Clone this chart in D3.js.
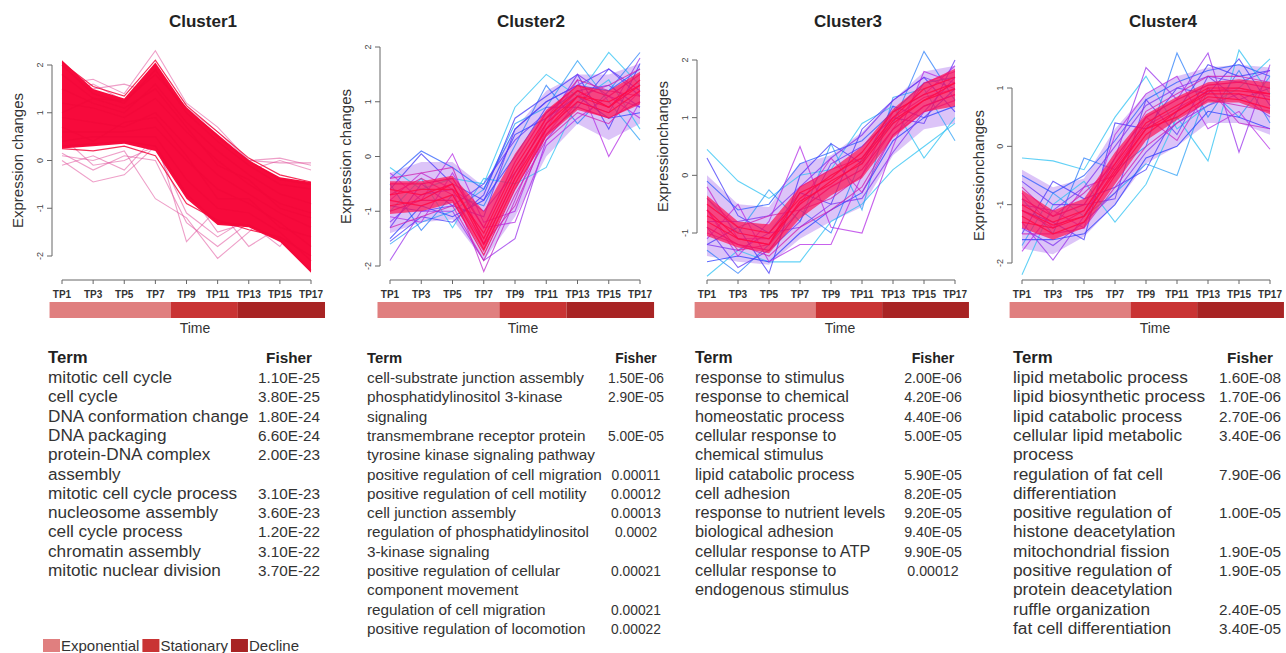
<!DOCTYPE html>
<html>
<head>
<meta charset="utf-8">
<script src="https://cdn.jsdelivr.net/npm/d3@7"></script>
<style>
body { margin: 0; background: #fff; }
svg { display: block; }
text { font-family: "Liberation Sans", Arial, sans-serif; fill: #222; }
</style>
</head>
<body>
<script>
//time points on the x axis
var timePoints = [1, 3, 5, 7, 9, 11, 13, 15, 17];

//growth phases, in TP units
var phaseNames = ["Exponential", "Stationary", "Decline"];
var phaseStart = [0.2, 8, 12.3];
var phaseEnd = [8, 12.3, 17.9];

//cluster1 profiles (one row per gene, one value per time point) and memberships
var cluster1Lines = [
  [2.0, 1.4, 1.2, 1.9, 1.0, 0.4, -0.1, -0.5, -0.6],
  [1.5, 1.2, 1.0, 1.6, 0.8, 0.2, -0.3, -0.7, -0.9],
  [1.2, 1.1, 0.9, 1.3, 0.6, 0.0, -0.5, -0.9, -1.1],
  [0.9, 0.8, 0.7, 1.0, 0.3, -0.3, -0.7, -1.1, -1.4],
  [0.6, 0.6, 0.6, 0.7, 0.0, -0.6, -0.9, -1.3, -1.8],
  [0.4, 0.5, 0.5, 0.5, -0.4, -1.0, -1.1, -1.5, -2.1],
  [1.8, 1.3, 1.25, 1.8, 1.1, 0.5, 0.0, -0.4, -0.5],
  [0.3, 0.35, 0.4, 0.3, -0.7, -1.3, -1.35, -1.65, -2.3],
  [0.25, 0.2, 0.3, 0.1, -0.9, -1.25, -1.45, -1.6, -2.0],
  [2.05, 1.55, 1.35, 2.1, 1.15, 0.6, 0.05, -0.3, -0.45],
  [1.0, 1.3, 1.1, 1.5, 0.7, -0.1, -0.4, -1.0, -1.2],
  [0.7, 0.4, 0.8, 0.9, 0.1, -0.8, -0.8, -1.4, -1.6],
  [0.0, -0.45, -0.3, 0.3, -1.1, -1.6, -1.2, -1.6, -1.5],
  [-0.1, 0.1, -0.2, 0.5, -1.7, -1.0, -1.8, -1.4, -1.2],
  [0.1, 0.0, 0.2, -0.8, -1.2, -2.05, -1.5, -0.9, -1.0],
  [1.6, 1.7, 1.4, 2.3, 1.2, 0.7, 0.0, 0.05, -0.1],
  [1.3, 1.5, 1.6, 1.4, 0.9, 0.5, -0.2, 0.0, -0.2],
  [0.5, -0.1, 0.0, 0.3, -0.6, -1.5, -1.3, -1.8, -0.9],
  [0.15, -0.2, 0.1, 0.0, -1.3, -1.8, -1.3, -1.7, -1.3],
  [1.4, 1.6, 1.25, 1.9, 1.1, 0.6, 0.0, -0.05, -0.05]
];
var cluster1Members = [0.9, 0.9, 0.9, 0.9, 0.9, 0.9, 0.9, 0.9, 0.9, 0.9, 0.9, 0.9,
  0.55, 0.55, 0.55, 0.6, 0.6, 0.55, 0.55, 0.5];
var cluster1CoreHigh = [2.1, 1.5, 1.3, 2.05, 1.1, 0.55, 0.0, -0.35, -0.45];
var cluster1CoreLow = [0.25, 0.3, 0.35, 0.2, -0.8, -1.35, -1.4, -1.7, -2.35];
var cluster1BandHigh = [2.1, 1.5, 1.3, 2.05, 1.1, 0.55, 0.0, -0.35, -0.45];
var cluster1BandLow = [0.25, 0.3, 0.35, 0.2, -0.8, -1.35, -1.4, -1.7, -2.35];

//cluster2
var cluster2Lines = [
  [-0.2, -0.6, -0.4, -0.5, 0.9, 1.5, 1.1, 1.9, 1.3],
  [-1.6, -1.2, -1.0, -0.6, 0.6, 0.9, 1.75, 1.0, 0.3],
  [-1.0, -0.4, -1.3, -0.4, -0.5, -0.2, 1.0, 1.4, 0.5],
  [-0.5, -1.35, -0.7, -0.9, 0.2, 1.3, 0.6, 1.2, 1.9],
  [-1.55, -1.1, -1.2, -0.7, 0.7, 1.1, 1.5, 0.5, 1.7],
  [-1.3, -0.5, -0.9, -0.5, 0.3, 0.8, 1.2, 1.3, 0.9],
  [-0.6, 0.05, -0.5, -0.8, 0.0, 0.9, 0.9, 1.6, 1.2],
  [-1.9, -1.0, -1.0, -1.9, -1.5, 0.3, 1.0, 0.8, 1.8],
  [-0.3, -0.8, 0.05, -1.2, -1.0, 0.5, 1.4, 0.0, 1.0],
  [-0.8, -0.3, -0.6, -2.1, -0.8, 0.6, 1.2, 0.9, 1.4],
  [-1.1, -1.2, -0.3, -1.3, -1.2, 0.2, 0.7, 1.1, 0.7],
  [-0.4, 0.1, -0.2, -0.6, 0.5, 1.0, 1.3, 1.2, 1.6],
  [-1.5, -0.9, -1.1, -0.8, 0.4, 0.7, 1.1, 0.7, 0.8],
  [-1.2, -0.7, -0.6, -1.0, -0.3, 0.6, 1.5, 1.1, 0.9],
  [-0.9, -1.0, -0.9, -1.1, 0.5, 1.0, 1.3, 1.6, 1.1],
  [-0.4, -0.3, -0.2, -1.6, -0.9, 0.4, 1.1, 1.3, 1.6],
  [-1.3, -1.1, -0.9, -1.9, -0.7, 0.3, 0.8, 0.6, 1.2],
  [-0.7, -0.4, -0.7, -1.6, -0.4, 0.7, 1.4, 1.2, 1.1],
  [-0.6, -0.7, -0.5, -1.5, -0.3, 0.6, 1.1, 1.0, 1.3],
  [-0.8, -0.9, -0.7, -1.7, -0.5, 0.5, 1.0, 0.8, 1.2],
  [-0.5, -0.5, -0.4, -1.3, -0.1, 0.8, 1.3, 1.1, 1.5],
  [-1.0, -0.8, -0.8, -1.8, -0.6, 0.4, 0.9, 0.7, 1.0],
  [-0.7, -0.6, -0.6, -1.4, -0.2, 0.7, 1.2, 0.9, 1.4],
  [-0.9, -0.8, -0.5, -1.6, -0.4, 0.5, 1.1, 0.9, 1.3]
];
var cluster2Members = [0.15, 0.2, 0.15, 0.25, 0.4, 0.45, 0.4, 0.55, 0.6, 0.65, 0.6,
  0.3, 0.35, 0.5, 0.45, 0.7, 0.7, 0.75, 0.9, 0.9, 0.85, 0.85, 0.95, 0.92];
var cluster2CoreHigh = [-0.45, -0.45, -0.35, -1.0, 0.05, 0.85, 1.3, 1.2, 1.55];
var cluster2CoreLow = [-1.05, -1.0, -0.85, -1.75, -0.6, 0.35, 0.85, 0.7, 0.95];
var cluster2BandHigh = [-0.3, -0.1, -0.1, -0.55, 0.5, 1.2, 1.5, 1.5, 1.7];
var cluster2BandLow = [-1.4, -1.2, -1.15, -1.9, -1.1, 0.0, 0.6, 0.3, 0.6];

//cluster3
var cluster3Lines = [
  [0.45, -0.1, -0.4, 0.0, 0.1, 0.9, 1.2, 0.3, 1.0],
  [-1.75, -1.3, -1.5, -1.5, -0.8, -0.5, 0.1, 0.5, 0.9],
  [-0.4, -1.0, -0.25, -0.8, 0.55, -0.6, 1.35, 1.5, 0.6],
  [-1.3, -1.7, -1.2, -0.6, -1.0, 0.3, 0.9, 2.15, 1.3],
  [-1.2, -0.9, -1.7, 0.0, 0.55, 0.2, 1.2, 1.0, 1.5],
  [0.3, -0.7, -1.0, -0.3, -0.5, 0.8, 1.3, 1.7, 1.1],
  [-0.9, -1.6, -1.3, -0.8, 0.2, 0.5, 1.0, 0.9, 2.0],
  [-0.6, -1.4, -0.8, 0.5, -0.9, -1.0, 0.5, 1.8, 1.6],
  [-1.1, -0.5, -1.5, -1.2, -1.2, 0.0, 1.1, 1.4, 1.9],
  [-0.2, -1.1, -1.1, -0.5, 0.3, -0.3, 0.7, 1.2, 1.4],
  [-0.1, -0.6, -0.5, 0.2, 0.4, 0.6, 1.1, 1.6, 1.7],
  [-1.5, -1.4, -1.5, -1.0, -0.6, -0.3, 0.6, 1.0, 1.2],
  [-0.8, -0.8, -0.7, -0.2, 0.3, 0.7, 1.3, 1.7, 1.5],
  [-1.2, -1.3, -1.0, -0.9, -0.5, -0.4, 0.4, 1.1, 1.7],
  [-0.4, -0.9, -0.7, -0.6, -0.4, 0.0, 0.8, 1.6, 1.8],
  [-1.0, -1.2, -1.4, -0.9, -0.6, -0.2, 0.7, 1.1, 1.3],
  [-0.6, -1.3, -1.2, -0.2, 0.1, 0.3, 1.0, 1.35, 1.5],
  [-0.7, -1.0, -1.1, -0.5, -0.1, 0.2, 0.9, 1.3, 1.5],
  [-0.5, -0.9, -1.0, -0.4, 0.0, 0.3, 1.0, 1.5, 1.7],
  [-0.9, -1.2, -1.3, -0.6, -0.2, 0.1, 0.8, 1.2, 1.4],
  [-0.6, -1.1, -1.2, -0.3, -0.05, 0.4, 1.1, 1.4, 1.6],
  [-0.8, -1.1, -1.2, -0.45, -0.15, 0.25, 0.95, 1.3, 1.6]
];
var cluster3Members = [0.15, 0.15, 0.2, 0.25, 0.4, 0.4, 0.45, 0.6, 0.6, 0.65,
  0.3, 0.35, 0.5, 0.5, 0.7, 0.7, 0.75, 0.9, 0.9, 0.85, 0.95, 0.92];
var cluster3CoreHigh = [-0.35, -0.8, -0.85, -0.2, 0.1, 0.5, 1.15, 1.6, 1.85];
var cluster3CoreLow = [-1.05, -1.25, -1.35, -0.75, -0.35, -0.05, 0.65, 1.1, 1.2];
var cluster3BandHigh = [0.0, -0.5, -0.55, 0.2, 0.35, 0.75, 1.3, 1.8, 1.9];
var cluster3BandLow = [-1.4, -1.5, -1.55, -1.1, -0.8, -0.55, 0.35, 0.8, 0.9];

//cluster4
var cluster4Lines = [
  [-2.2, -1.0, -0.6, -1.3, -0.65, 0.5, -0.25, 1.65, 0.9],
  [-0.2, -0.25, -0.4, 0.5, 1.2, 0.3, 0.7, 1.0, 1.5],
  [-1.7, -0.8, -1.2, -0.8, -0.3, -0.5, 1.0, 0.5, 1.2],
  [-0.9, -1.5, -0.2, -0.4, 0.0, 1.6, 0.5, 1.3, 0.4],
  [-1.5, -0.6, -0.9, -0.7, -0.4, 0.6, 1.4, 1.2, 1.3],
  [-1.1, -1.3, -1.6, 0.4, 0.3, 1.0, 0.9, 1.5, 0.7],
  [-0.6, -1.0, -1.0, -0.9, 0.8, 0.2, 1.2, 0.8, 1.0],
  [-1.3, -1.95, -1.2, -0.2, 1.35, 0.8, 1.6, -0.1, 1.4],
  [-1.8, -1.1, -1.4, 0.2, 0.9, 1.2, 0.3, 0.6, -0.05],
  [-0.8, -1.4, -0.7, -0.5, 0.5, 0.1, 1.0, 0.4, 0.3],
  [-0.5, -0.8, -0.5, 0.1, 0.8, 1.1, 1.3, 1.4, 1.2],
  [-1.6, -1.6, -1.5, -1.0, -0.2, 0.0, 0.6, 0.5, 0.3],
  [-1.0, -1.1, -0.7, 0.0, 0.7, 1.0, 1.2, 1.1, 1.3],
  [-1.4, -1.7, -1.3, -0.8, -0.1, 0.4, 0.7, 0.9, 0.5],
  [-0.7, -1.2, -0.8, -0.3, 0.6, 0.9, 1.2, 1.2, 1.1],
  [-1.5, -1.5, -1.4, -0.7, 0.0, 0.4, 0.8, 0.7, 0.6],
  [-1.1, -1.4, -1.1, -0.35, 0.35, 0.65, 0.95, 1.0, 0.85],
  [-1.0, -1.3, -1.1, -0.3, 0.4, 0.7, 1.0, 1.0, 0.9],
  [-1.2, -1.5, -1.3, -0.5, 0.2, 0.6, 0.9, 0.9, 0.8],
  [-0.9, -1.2, -1.0, -0.2, 0.5, 0.8, 1.05, 1.1, 1.0],
  [-1.3, -1.4, -1.2, -0.4, 0.3, 0.5, 0.85, 0.8, 0.65],
  [-1.1, -1.35, -1.2, -0.45, 0.3, 0.6, 0.95, 0.95, 0.9]
];
var cluster4Members = [0.15, 0.15, 0.2, 0.25, 0.4, 0.4, 0.45, 0.55, 0.6, 0.65,
  0.3, 0.35, 0.5, 0.5, 0.7, 0.7, 0.75, 0.9, 0.9, 0.85, 0.95, 0.92];
var cluster4CoreHigh = [-0.75, -1.1, -0.9, -0.1, 0.55, 0.85, 1.1, 1.15, 1.1];
var cluster4CoreLow = [-1.4, -1.6, -1.4, -0.65, 0.1, 0.45, 0.75, 0.75, 0.55];
var cluster4BandHigh = [-0.4, -0.7, -0.55, 0.3, 0.9, 1.2, 1.35, 1.4, 1.35];
var cluster4BandLow = [-1.75, -1.85, -1.55, -1.0, -0.3, 0.0, 0.4, 0.4, 0.2];

//GO enrichment tables
var cluster1Terms = ["mitotic cell cycle", "cell cycle", "DNA conformation change", "DNA packaging",
  "protein-DNA complex\nassembly", "mitotic cell cycle process", "nucleosome assembly",
  "cell cycle process", "chromatin assembly", "mitotic nuclear division"];
var cluster1Fisher = ["1.10E-25", "3.80E-25", "1.80E-24", "6.60E-24", "2.00E-23", "3.10E-23",
  "3.60E-23", "1.20E-22", "3.10E-22", "3.70E-22"];
var cluster2Terms = ["cell-substrate junction assembly", "phosphatidylinositol 3-kinase\nsignaling",
  "transmembrane receptor protein\ntyrosine kinase signaling pathway",
  "positive regulation of cell migration", "positive regulation of cell motility",
  "cell junction assembly", "regulation of phosphatidylinositol\n3-kinase signaling",
  "positive regulation of cellular\ncomponent movement", "regulation of cell migration",
  "positive regulation of locomotion"];
var cluster2Fisher = ["1.50E-06", "2.90E-05", "5.00E-05", "0.00011", "0.00012", "0.00013",
  "0.0002", "0.00021", "0.00021", "0.00022"];
var cluster3Terms = ["response to stimulus", "response to chemical", "homeostatic process",
  "cellular response to\nchemical stimulus", "lipid catabolic process", "cell adhesion",
  "response to nutrient levels", "biological adhesion", "cellular response to ATP",
  "cellular response to\nendogenous stimulus"];
var cluster3Fisher = ["2.00E-06", "4.20E-06", "4.40E-06", "5.00E-05", "5.90E-05", "8.20E-05",
  "9.20E-05", "9.40E-05", "9.90E-05", "0.00012"];
var cluster4Terms = ["lipid metabolic process", "lipid biosynthetic process", "lipid catabolic process",
  "cellular lipid metabolic\nprocess", "regulation of fat cell\ndifferentiation",
  "positive regulation of\nhistone deacetylation", "mitochondrial fission",
  "positive regulation of\nprotein deacetylation", "ruffle organization", "fat cell differentiation"];
var cluster4Fisher = ["1.60E-08", "1.70E-06", "2.70E-06", "3.40E-06", "7.90E-06", "1.00E-05",
  "1.90E-05", "1.90E-05", "2.40E-05", "3.40E-05"];

//layout of the four panels
var panels = [
  {title: "Cluster1", lines: cluster1Lines, members: cluster1Members,
   coreHigh: cluster1CoreHigh, coreLow: cluster1CoreLow, bandHigh: cluster1BandHigh, bandLow: cluster1BandLow,
   terms: cluster1Terms, fisher: cluster1Fisher,
   x0: 62, x1: 311, yDomain: [-2, 2], yRange: [256, 65], yTicks: [-2, -1, 0, 1, 2],
   yLabel: "Expression changes", yLabelX: 18, tableX: 48, fisherX: 289,
   termSize: 17.2, valueSize: 15.3, allRed: true},
  {title: "Cluster2", lines: cluster2Lines, members: cluster2Members,
   coreHigh: cluster2CoreHigh, coreLow: cluster2CoreLow, bandHigh: cluster2BandHigh, bandLow: cluster2BandLow,
   terms: cluster2Terms, fisher: cluster2Fisher,
   x0: 390, x1: 640, yDomain: [-2, 2], yRange: [266, 47], yTicks: [-2, -1, 0, 1, 2],
   yLabel: "Expression changes", yLabelX: 346, tableX: 367, fisherX: 636,
   termSize: 15.3, valueSize: 13.8},
  {title: "Cluster3", lines: cluster3Lines, members: cluster3Members,
   coreHigh: cluster3CoreHigh, coreLow: cluster3CoreLow, bandHigh: cluster3BandHigh, bandLow: cluster3BandLow,
   terms: cluster3Terms, fisher: cluster3Fisher,
   x0: 707, x1: 955, yDomain: [-1, 2], yRange: [233, 60], yTicks: [-1, 0, 1, 2],
   yLabel: "Expressionchanges", yLabelX: 663, tableX: 695, fisherX: 933,
   termSize: 16.3, valueSize: 14.2},
  {title: "Cluster4", lines: cluster4Lines, members: cluster4Members,
   coreHigh: cluster4CoreHigh, coreLow: cluster4CoreLow, bandHigh: cluster4BandHigh, bandLow: cluster4BandLow,
   terms: cluster4Terms, fisher: cluster4Fisher,
   x0: 1022, x1: 1270, yDomain: [-2, 1], yRange: [263, 88], yTicks: [-2, -1, 0, 1],
   yLabel: "Expressionchanges", yLabelX: 979, tableX: 1013, fisherX: 1250,
   termSize: 17.3, valueSize: 15.3}
];

var phaseColors = ["#e07f7f", "#c93434", "#a82424"];

//membership -> colour, cyan (low) to red (high)
var memberColor = d3.scaleLinear()
    .domain([0.1, 0.35, 0.6, 0.9])
    .range(["#2ee3f0", "#2b3cff", "#b42ee6", "#ff0a48"])
    .clamp(true);

var svg = d3.select("body").append("svg")
    .attr("width", 1286)
    .attr("height", 653);

panels.forEach(function(p) {
  var x = d3.scaleLinear().domain([1, 17]).range([p.x0, p.x1]);
  var y = d3.scaleLinear().domain(p.yDomain).range(p.yRange);
  var g = svg.append("g");

  var line = d3.line()
      .x(function(d, i) { return x(timePoints[i]); })
      .y(function(d) { return y(d); });
  var area = d3.area()
      .x(function(d, i) { return x(timePoints[i]); })
      .y0(function(d) { return y(d[0]); })
      .y1(function(d) { return y(d[1]); });

  //title
  g.append("text")
      .attr("x", p.x0 + 141).attr("y", 27)
      .attr("text-anchor", "middle")
      .style("font-size", "17px").style("font-weight", "bold")
      .text(p.title);

  var order = d3.range(p.lines.length).sort(function(a, b) { return p.members[a] - p.members[b]; });
  var low = order.filter(function(i) { return p.members[i] < 0.8; });
  var high = order.filter(function(i) { return p.members[i] >= 0.8; });

  //outer band of the cluster
  if (!p.allRed) {
    g.append("path")
        .attr("fill", "#8a3ce8").attr("fill-opacity", 0.3)
        .attr("d", area(d3.zip(p.bandLow, p.bandHigh)));
  }

  //low membership profiles
  g.selectAll("path.low")
      .data(low)
      .enter().append("path")
      .attr("class", "low")
      .attr("fill", "none")
      .attr("stroke", function(i) { return p.allRed ? "#e0509a" : memberColor(p.members[i]); })
      .attr("stroke-opacity", p.allRed ? 0.55 : 0.75)
      .attr("stroke-width", 1.1)
      .attr("d", function(i) { return line(p.lines[i]); });

  //dense core
  g.append("path")
      .attr("fill", p.allRed ? "#f70a3c" : "#ff1050")
      .attr("fill-opacity", p.allRed ? 1 : 0.7)
      .attr("d", area(d3.zip(p.coreLow, p.coreHigh)));

  //high membership profiles
  g.selectAll("path.high")
      .data(high)
      .enter().append("path")
      .attr("class", "high")
      .attr("fill", "none")
      .attr("stroke", function(i) { return p.allRed ? "#f2083a" : memberColor(p.members[i]); })
      .attr("stroke-opacity", 0.85)
      .attr("stroke-width", 1.2)
      .attr("d", function(i) { return line(p.lines[i]); });

  //y axis, R style
  var ax = p.x0 - 10;
  g.append("line")
      .attr("x1", ax).attr("x2", ax)
      .attr("y1", y(d3.min(p.yTicks))).attr("y2", y(d3.max(p.yTicks)))
      .attr("stroke", "#666");
  p.yTicks.forEach(function(t) {
    g.append("line")
        .attr("x1", ax - 5).attr("x2", ax)
        .attr("y1", y(t)).attr("y2", y(t))
        .attr("stroke", "#666");
    g.append("text")
        .attr("transform", "translate(" + (ax - 9) + "," + y(t) + ") rotate(-90)")
        .attr("text-anchor", "middle")
        .style("font-size", "9px").style("fill", "#444")
        .text(t);
  });
  g.append("text")
      .attr("transform", "translate(" + p.yLabelX + "," + d3.mean(p.yRange) + ") rotate(-90)")
      .attr("text-anchor", "middle")
      .attr("dy", "0.35em")
      .style("font-size", "15px").style("fill", "#333")
      .text(p.yLabel);

  //x axis
  g.append("line")
      .attr("x1", x(1)).attr("x2", x(17))
      .attr("y1", 280).attr("y2", 280)
      .attr("stroke", "#666");
  timePoints.forEach(function(t) {
    g.append("line")
        .attr("x1", x(t)).attr("x2", x(t))
        .attr("y1", 280).attr("y2", 284)
        .attr("stroke", "#666");
    g.append("text")
        .attr("x", x(t)).attr("y", 298)
        .attr("text-anchor", "middle")
        .style("font-size", "10px").style("font-weight", "bold").style("fill", "#333")
        .text("TP" + t);
  });

  //phase bar
  phaseNames.forEach(function(n, i) {
    g.append("rect")
        .attr("x", x(phaseStart[i])).attr("y", 302)
        .attr("width", x(phaseEnd[i]) - x(phaseStart[i])).attr("height", 16)
        .attr("fill", phaseColors[i]);
  });
  g.append("text")
      .attr("x", p.x0 + 133).attr("y", 333)
      .attr("text-anchor", "middle")
      .style("font-size", "14px").style("fill", "#333")
      .text("Time");

  //GO table
  var rowH = 19.3;
  g.append("text")
      .attr("x", p.tableX).attr("y", 363)
      .style("font-size", (p.termSize - 0.5) + "px").style("font-weight", "bold")
      .text("Term");
  g.append("text")
      .attr("x", p.fisherX).attr("y", 363)
      .attr("text-anchor", "middle")
      .style("font-size", p.valueSize + "px").style("font-weight", "bold")
      .text("Fisher");
  var row = 0;
  p.terms.forEach(function(term, i) {
    var parts = term.split("\n");
    g.append("text")
        .attr("x", p.fisherX).attr("y", 383 + row * rowH)
        .attr("text-anchor", "middle")
        .style("font-size", p.valueSize + "px").style("fill", "#333")
        .text(p.fisher[i]);
    parts.forEach(function(s) {
      g.append("text")
          .attr("x", p.tableX).attr("y", 383 + row * rowH)
          .style("font-size", p.termSize + "px").style("fill", "#333")
          .text(s);
      row++;
    });
  });
});

//phase legend
var lx = 43;
phaseNames.forEach(function(n, i) {
  svg.append("rect")
      .attr("x", lx).attr("y", 639)
      .attr("width", 17).attr("height", 13)
      .attr("fill", phaseColors[i]);
  var t = svg.append("text")
      .attr("x", lx + 18).attr("y", 651)
      .style("font-size", "15px").style("fill", "#333")
      .text(n);
  lx += 18 + t.node().getComputedTextLength() + 3;
});
</script>
</body>
</html>
